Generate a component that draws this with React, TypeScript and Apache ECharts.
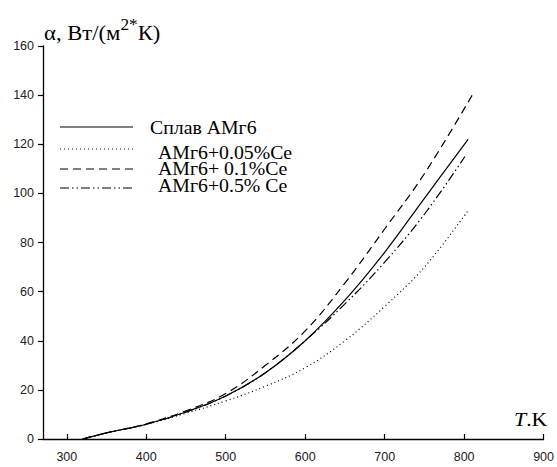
import React, { useEffect, useRef } from "react";
import * as echarts from "echarts";

const tSolid = [320, 350, 400, 450, 500, 550, 600, 650, 700, 750, 805];
const vSolid = [0, 2.5, 6, 11, 17.5, 27, 40, 56.5, 76, 98, 122];

const tDotted = [320, 350, 400, 450, 500, 550, 600, 650, 700, 750, 805];
const vDotted = [0, 2.5, 6, 10.5, 15.5, 21.5, 29, 40, 54, 70, 93];

const tDashed = [320, 350, 400, 450, 500, 550, 600, 650, 700, 750, 812];
const vDashed = [0, 2.5, 6.2, 11.5, 18.5, 30, 44, 63.5, 85.5, 108, 141];

const tDashDot = [320, 350, 400, 450, 500, 550, 600, 650, 700, 750, 801];
const vDashDot = [0, 2.5, 6, 11, 17.5, 27, 40, 55, 72, 91.5, 115];

const seriesNames = ["Сплав АМг6", "АМг6+0.05%Ce", "АМг6+ 0.1%Ce", "АМг6+0.5% Ce"];
const dashTypes: any[] = ["solid", [1, 3], [8, 5], [9, 3, 1.5, 3, 1.5, 3]];

const yTitle = "α, Вт/(м";
const xTitle = "T";

const pairs = (t: number[], v: number[]) => t.map((x, i) => [x, v[i]]);

export default function App() {
  const ref = useRef<HTMLDivElement>(null);
  useEffect(() => {
    if (!ref.current) return;
    const chart = echarts.init(ref.current, null, { renderer: "svg" });
    const datasets = [
      pairs(tSolid, vSolid),
      pairs(tDotted, vDotted),
      pairs(tDashed, vDashed),
      pairs(tDashDot, vDashDot),
    ];
    const legendY = [127, 149, 169, 188];
    const legendTextY = [128, 153, 169, 186];
    const legendTextX = [150, 158, 158, 158];
    const serif = '"Liberation Serif", "Times New Roman", serif';
    const graphics: any[] = [];
    seriesNames.forEach((name, i) => {
      graphics.push({
        type: "line",
        shape: { x1: 60, y1: legendY[i], x2: 133, y2: legendY[i] },
        style: { stroke: "#000", lineWidth: 1.2, lineDash: dashTypes[i] === "solid" ? null : dashTypes[i] },
      });
      graphics.push({
        type: "text",
        x: legendTextX[i],
        y: legendTextY[i],
        scaleX: 1.1,
        style: {
          text: name,
          font: `18px ${serif}`,
          fill: "#000",
          verticalAlign: "middle",
        },
      });
    });
    graphics.push({
      type: "text",
      x: 44,
      y: 17,
      scaleX: 1.08,
      style: {
        text: `{a|${yTitle}}{s|2*}{a|К)}`,
        fill: "#000",
        rich: {
          a: { fontFamily: serif, fontSize: 21, color: "#000", lineHeight: 27, verticalAlign: "bottom" },
          s: { fontFamily: serif, fontSize: 16, color: "#000", lineHeight: 27, verticalAlign: "top" },
        },
      },
    });
    graphics.push({
      type: "text",
      x: 514,
      y: 410,
      scaleX: 1.15,
      style: {
        text: `{i|${xTitle}}{a|.K}`,
        fill: "#000",
        rich: {
          i: { fontFamily: serif, fontSize: 19, fontStyle: "italic", color: "#000" },
          a: { fontFamily: serif, fontSize: 19, color: "#000" },
        },
      },
    });

    chart.setOption({
      animation: false,
      backgroundColor: "#fff",
      grid: { left: 43, right: 13, top: 46, bottom: 28 },
      xAxis: {
        type: "value",
        min: 270,
        max: 900,
        splitLine: { show: false },
        axisLine: { lineStyle: { color: "#000", width: 1.3 } },
        axisTick: { inside: true, length: 5, lineStyle: { color: "#000", width: 1.2 } },
        axisLabel: {
          showMinLabel: false,
          formatter: (v: number) => (v % 100 === 0 ? String(v) : ""),
          color: "#222",
          fontFamily: '"Liberation Sans", Arial, sans-serif',
          fontSize: 12.5,
          margin: 11,
        },
      },
      yAxis: {
        type: "value",
        min: 0,
        max: 160,
        interval: 20,
        splitLine: { show: false },
        axisLine: { lineStyle: { color: "#000", width: 1.3 } },
        axisTick: { length: 5, lineStyle: { color: "#000", width: 1.2 } },
        axisLabel: {
          color: "#222",
          fontFamily: '"Liberation Sans", Arial, sans-serif',
          fontSize: 12.5,
          margin: 9,
        },
      },
      series: datasets.map((d, i) => ({
        type: "line",
        name: seriesNames[i],
        data: d,
        smooth: 0.4,
        showSymbol: false,
        lineStyle: { color: "#000", width: 1.2, type: dashTypes[i] },
      })),
      graphic: graphics,
    });
    return () => chart.dispose();
  }, []);
  return <div ref={ref} style={{ position: "fixed", left: 0, top: 0, width: 557, height: 467 }} />;
}
